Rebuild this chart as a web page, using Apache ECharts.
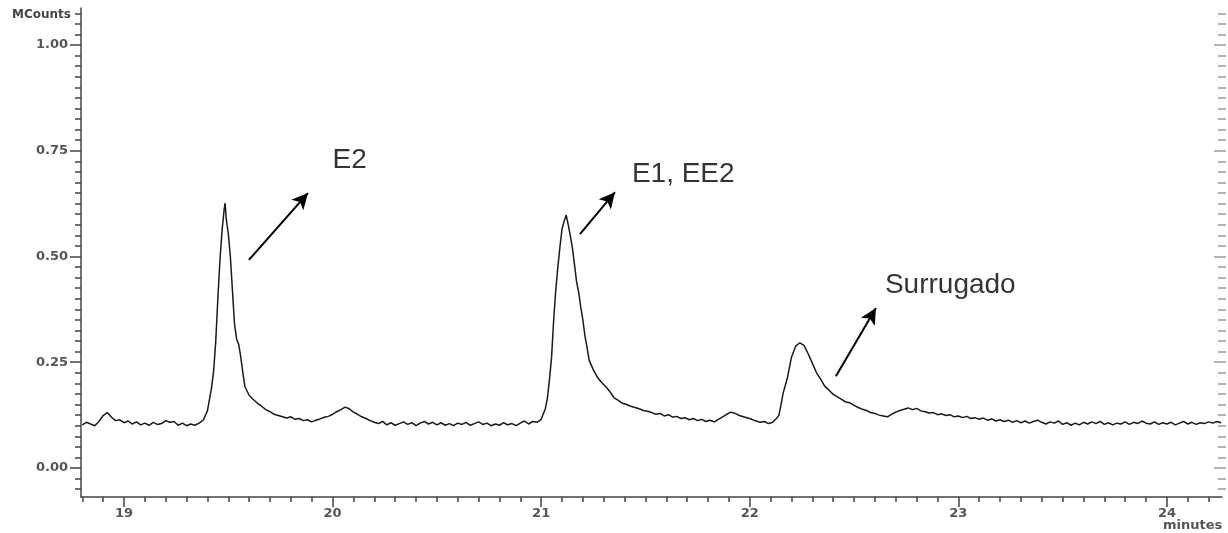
<!DOCTYPE html>
<html>
<head>
<meta charset="utf-8">
<script src="https://cdn.jsdelivr.net/npm/echarts@6/dist/echarts.min.js"></script>
<style>
  html, body { margin: 0; padding: 0; background: #ffffff; }
  #chart { width: 1228px; height: 533px; }
</style>
</head>
<body>
<div id="chart"></div>
<script>
// ---- data (retention time in minutes, signal in MCounts) ----
const chromatogram = [
  [18.80,0.102],[18.82,0.108],[18.84,0.104],[18.86,0.100],[18.88,0.110],[18.90,0.124],[18.92,0.131],[18.94,0.120],
  [18.96,0.112],[18.98,0.114],[19.00,0.107],[19.02,0.111],[19.04,0.104],[19.06,0.109],[19.08,0.102],[19.10,0.106],
  [19.12,0.101],[19.14,0.108],[19.16,0.103],[19.18,0.105],[19.20,0.112],[19.22,0.108],[19.24,0.110],[19.26,0.101],
  [19.28,0.106],[19.30,0.100],[19.32,0.104],[19.34,0.101],[19.36,0.106],[19.38,0.113],[19.40,0.135],[19.42,0.190],
  [19.43,0.230],[19.44,0.300],[19.45,0.400],[19.46,0.490],[19.47,0.560],[19.48,0.610],[19.485,0.626],[19.49,0.590],
  [19.50,0.555],[19.51,0.500],[19.52,0.420],[19.53,0.340],[19.54,0.305],[19.55,0.292],[19.56,0.262],[19.57,0.225],
  [19.58,0.192],[19.60,0.172],[19.62,0.162],[19.64,0.153],[19.66,0.146],[19.68,0.138],[19.70,0.133],[19.72,0.127],
  [19.74,0.124],[19.76,0.121],[19.78,0.118],[19.80,0.121],[19.82,0.115],[19.84,0.117],[19.86,0.112],[19.88,0.114],
  [19.90,0.109],[19.92,0.113],[19.94,0.116],[19.96,0.120],[19.98,0.122],[20.00,0.127],[20.02,0.133],[20.04,0.138],
  [20.06,0.144],[20.08,0.140],[20.10,0.132],[20.12,0.127],[20.14,0.121],[20.16,0.117],[20.18,0.112],[20.20,0.108],
  [20.22,0.105],[20.24,0.110],[20.26,0.102],[20.28,0.107],[20.30,0.101],[20.32,0.105],[20.34,0.109],[20.36,0.103],
  [20.38,0.107],[20.40,0.100],[20.42,0.106],[20.44,0.110],[20.46,0.104],[20.48,0.108],[20.50,0.102],[20.52,0.107],
  [20.54,0.101],[20.56,0.105],[20.58,0.100],[20.60,0.106],[20.62,0.103],[20.64,0.108],[20.66,0.101],[20.68,0.105],
  [20.70,0.109],[20.72,0.103],[20.74,0.106],[20.76,0.100],[20.78,0.104],[20.80,0.101],[20.82,0.107],[20.84,0.102],
  [20.86,0.105],[20.88,0.100],[20.90,0.106],[20.92,0.111],[20.94,0.104],[20.96,0.110],[20.98,0.108],[21.00,0.115],
  [21.02,0.140],[21.03,0.165],[21.04,0.210],[21.05,0.262],[21.06,0.350],[21.07,0.420],[21.08,0.475],[21.09,0.522],
  [21.10,0.565],[21.11,0.583],[21.12,0.598],[21.13,0.575],[21.14,0.548],[21.15,0.520],[21.16,0.480],[21.17,0.440],
  [21.18,0.415],[21.19,0.380],[21.20,0.350],[21.21,0.312],[21.22,0.285],[21.23,0.255],[21.25,0.232],[21.27,0.214],
  [21.29,0.202],[21.31,0.192],[21.33,0.180],[21.35,0.166],[21.37,0.160],[21.39,0.153],[21.41,0.150],[21.43,0.146],
  [21.45,0.143],[21.47,0.140],[21.49,0.136],[21.51,0.134],[21.53,0.131],[21.55,0.127],[21.57,0.129],[21.59,0.123],
  [21.61,0.126],[21.63,0.120],[21.65,0.122],[21.67,0.117],[21.69,0.119],[21.71,0.114],[21.73,0.117],[21.75,0.112],
  [21.77,0.115],[21.79,0.110],[21.81,0.113],[21.83,0.109],[21.85,0.115],[21.87,0.121],[21.89,0.127],[21.91,0.132],
  [21.93,0.129],[21.95,0.124],[21.97,0.121],[21.99,0.118],[22.01,0.115],[22.03,0.111],[22.05,0.108],[22.07,0.110],
  [22.09,0.105],[22.11,0.108],[22.13,0.118],[22.14,0.125],[22.15,0.150],[22.16,0.177],[22.18,0.212],[22.20,0.262],
  [22.22,0.288],[22.24,0.296],[22.26,0.290],[22.28,0.270],[22.30,0.248],[22.32,0.225],[22.34,0.210],[22.36,0.193],
  [22.38,0.184],[22.40,0.174],[22.42,0.168],[22.44,0.162],[22.46,0.156],[22.48,0.154],[22.50,0.148],[22.52,0.143],
  [22.54,0.139],[22.56,0.136],[22.58,0.131],[22.60,0.129],[22.62,0.125],[22.64,0.123],[22.66,0.121],[22.68,0.127],
  [22.70,0.132],[22.72,0.136],[22.74,0.139],[22.76,0.142],[22.78,0.138],[22.80,0.141],[22.82,0.135],[22.84,0.133],
  [22.86,0.130],[22.88,0.131],[22.90,0.126],[22.92,0.128],[22.94,0.124],[22.96,0.126],[22.98,0.121],[23.00,0.123],
  [23.02,0.119],[23.04,0.122],[23.06,0.117],[23.08,0.119],[23.10,0.115],[23.12,0.118],[23.14,0.113],[23.16,0.116],
  [23.18,0.111],[23.20,0.114],[23.22,0.110],[23.24,0.113],[23.26,0.108],[23.28,0.112],[23.30,0.107],[23.32,0.111],
  [23.34,0.106],[23.36,0.110],[23.38,0.113],[23.40,0.108],[23.42,0.104],[23.44,0.109],[23.46,0.106],[23.48,0.111],
  [23.50,0.103],[23.52,0.107],[23.54,0.101],[23.56,0.106],[23.58,0.102],[23.60,0.108],[23.62,0.104],[23.64,0.109],
  [23.66,0.105],[23.68,0.110],[23.70,0.103],[23.72,0.107],[23.74,0.102],[23.76,0.106],[23.78,0.104],[23.80,0.109],
  [23.82,0.103],[23.84,0.108],[23.86,0.105],[23.88,0.111],[23.90,0.106],[23.92,0.104],[23.94,0.109],[23.96,0.103],
  [23.98,0.107],[24.00,0.104],[24.02,0.108],[24.04,0.102],[24.06,0.106],[24.08,0.110],[24.10,0.104],[24.12,0.108],
  [24.14,0.103],[24.16,0.107],[24.18,0.105],[24.20,0.109],[24.22,0.106],[24.24,0.110],[24.26,0.107]
];

const xTickLabels = [19, 20, 21, 22, 23, 24];
const yTickLabels = [0.00, 0.25, 0.50, 0.75, 1.00];

const annotationTexts = ['E2', 'E1, EE2', 'Surrugado'];
const annotationTextAt = [[20.00, 0.728], [21.435, 0.695], [22.648, 0.433]];
const arrowFrom = [[19.599, 0.492], [21.186, 0.553], [22.413, 0.217]];
const arrowTo = [[19.882, 0.650], [21.354, 0.652], [22.605, 0.378]];

// ---- axis extents ----
const X_MIN = 18.794, X_MAX = 24.264;
const Y_MIN = -0.0686, Y_MAX = 1.0875;

const xMinor = [];
for (let i = 188; i <= 242; i++) xMinor.push(i / 10);
const yMinor = [];
for (let i = -2; i <= 43; i++) yMinor.push(i * 0.025);

const axisFont = { fontFamily: 'DejaVu Sans', fontWeight: 'bold', fontSize: 13, color: '#555' };
const tickColor = '#444';

const chart = echarts.init(document.getElementById('chart'), null, { renderer: 'canvas' });

const option = {
  backgroundColor: '#ffffff',
  animation: false,
  grid: { left: 81, right: 6, top: 8, bottom: 36, containLabel: false },
  xAxis: [
    {
      type: 'value', min: X_MIN, max: X_MAX, position: 'bottom',
      axisLine: { show: true, onZero: false, lineStyle: { color: tickColor, width: 1.5 } },
      axisTick: { show: true, length: 10, customValues: xTickLabels, lineStyle: { color: tickColor, width: 1.5 } },
      axisLabel: { show: true, customValues: xTickLabels, margin: 10, formatter: v => String(Math.round(v)), ...axisFont },
      splitLine: { show: false }
    },
    {
      type: 'value', min: X_MIN, max: X_MAX, position: 'bottom',
      axisLine: { show: false, onZero: false },
      axisTick: { show: true, length: 5, customValues: xMinor, lineStyle: { color: tickColor, width: 1.5 } },
      axisLabel: { show: false },
      splitLine: { show: false }
    }
  ],
  yAxis: [
    {
      type: 'value', min: Y_MIN, max: Y_MAX, position: 'left',
      axisLine: { show: true, onZero: false, lineStyle: { color: tickColor, width: 1.5 } },
      axisTick: { show: true, length: 11, customValues: yTickLabels, lineStyle: { color: tickColor, width: 1.5 } },
      axisLabel: { show: true, customValues: yTickLabels, margin: 13, formatter: v => v.toFixed(2), ...axisFont },
      splitLine: { show: false }
    },
    {
      type: 'value', min: Y_MIN, max: Y_MAX, position: 'left',
      axisLine: { show: false, onZero: false },
      axisTick: { show: true, length: 6, customValues: yMinor, lineStyle: { color: tickColor, width: 1.5 } },
      axisLabel: { show: false },
      splitLine: { show: false }
    },
    {
      type: 'value', min: Y_MIN, max: Y_MAX, position: 'right', offset: 4,
      axisLine: { show: false, onZero: false },
      axisTick: { show: true, inside: true, length: 8, customValues: yMinor, lineStyle: { color: '#9a9a9a', width: 1.5 } },
      axisLabel: { show: false },
      splitLine: { show: false }
    },
    {
      type: 'value', min: Y_MIN, max: Y_MAX, position: 'right', offset: 4,
      axisLine: { show: false, onZero: false },
      axisTick: { show: true, inside: true, length: 12, customValues: yTickLabels, lineStyle: { color: '#9a9a9a', width: 1.5 } },
      axisLabel: { show: false },
      splitLine: { show: false }
    }
  ],
  graphic: [
    { type: 'text', left: 12, top: 9,
      style: { text: 'MCounts', font: 'bold 12px "DejaVu Sans"', fill: '#444' } },
    { type: 'text', left: 1163, top: 519,
      style: { text: 'minutes', font: 'bold 13px "DejaVu Sans"', fill: '#555' } }
  ],
  series: [
    {
      type: 'line', xAxisIndex: 0, yAxisIndex: 0,
      data: chromatogram, showSymbol: false, symbol: 'none', smooth: false,
      lineStyle: { color: '#1a1a1a', width: 1.5 },
      silent: true,
      markLine: {
        silent: true, animation: false,
        symbol: ['none', 'arrow'], symbolSize: [12, 16],
        label: { show: false },
        lineStyle: { color: '#000', width: 2, type: 'solid' },
        data: arrowFrom.map((p, i) => [{ coord: p }, { coord: arrowTo[i] }])
      }
    },
    {
      type: 'scatter', xAxisIndex: 0, yAxisIndex: 0,
      symbolSize: 0, silent: true,
      data: annotationTextAt.map((p, i) => ({ value: p, name: annotationTexts[i] })),
      label: {
        show: true, position: 'right', distance: 0,
        formatter: p => p.name,
        fontFamily: '"Liberation Sans", Arial, sans-serif', fontSize: 28, color: '#000', verticalAlign: 'middle'
      }
    }
  ]
};

chart.setOption(option);
</script>
</body>
</html>
